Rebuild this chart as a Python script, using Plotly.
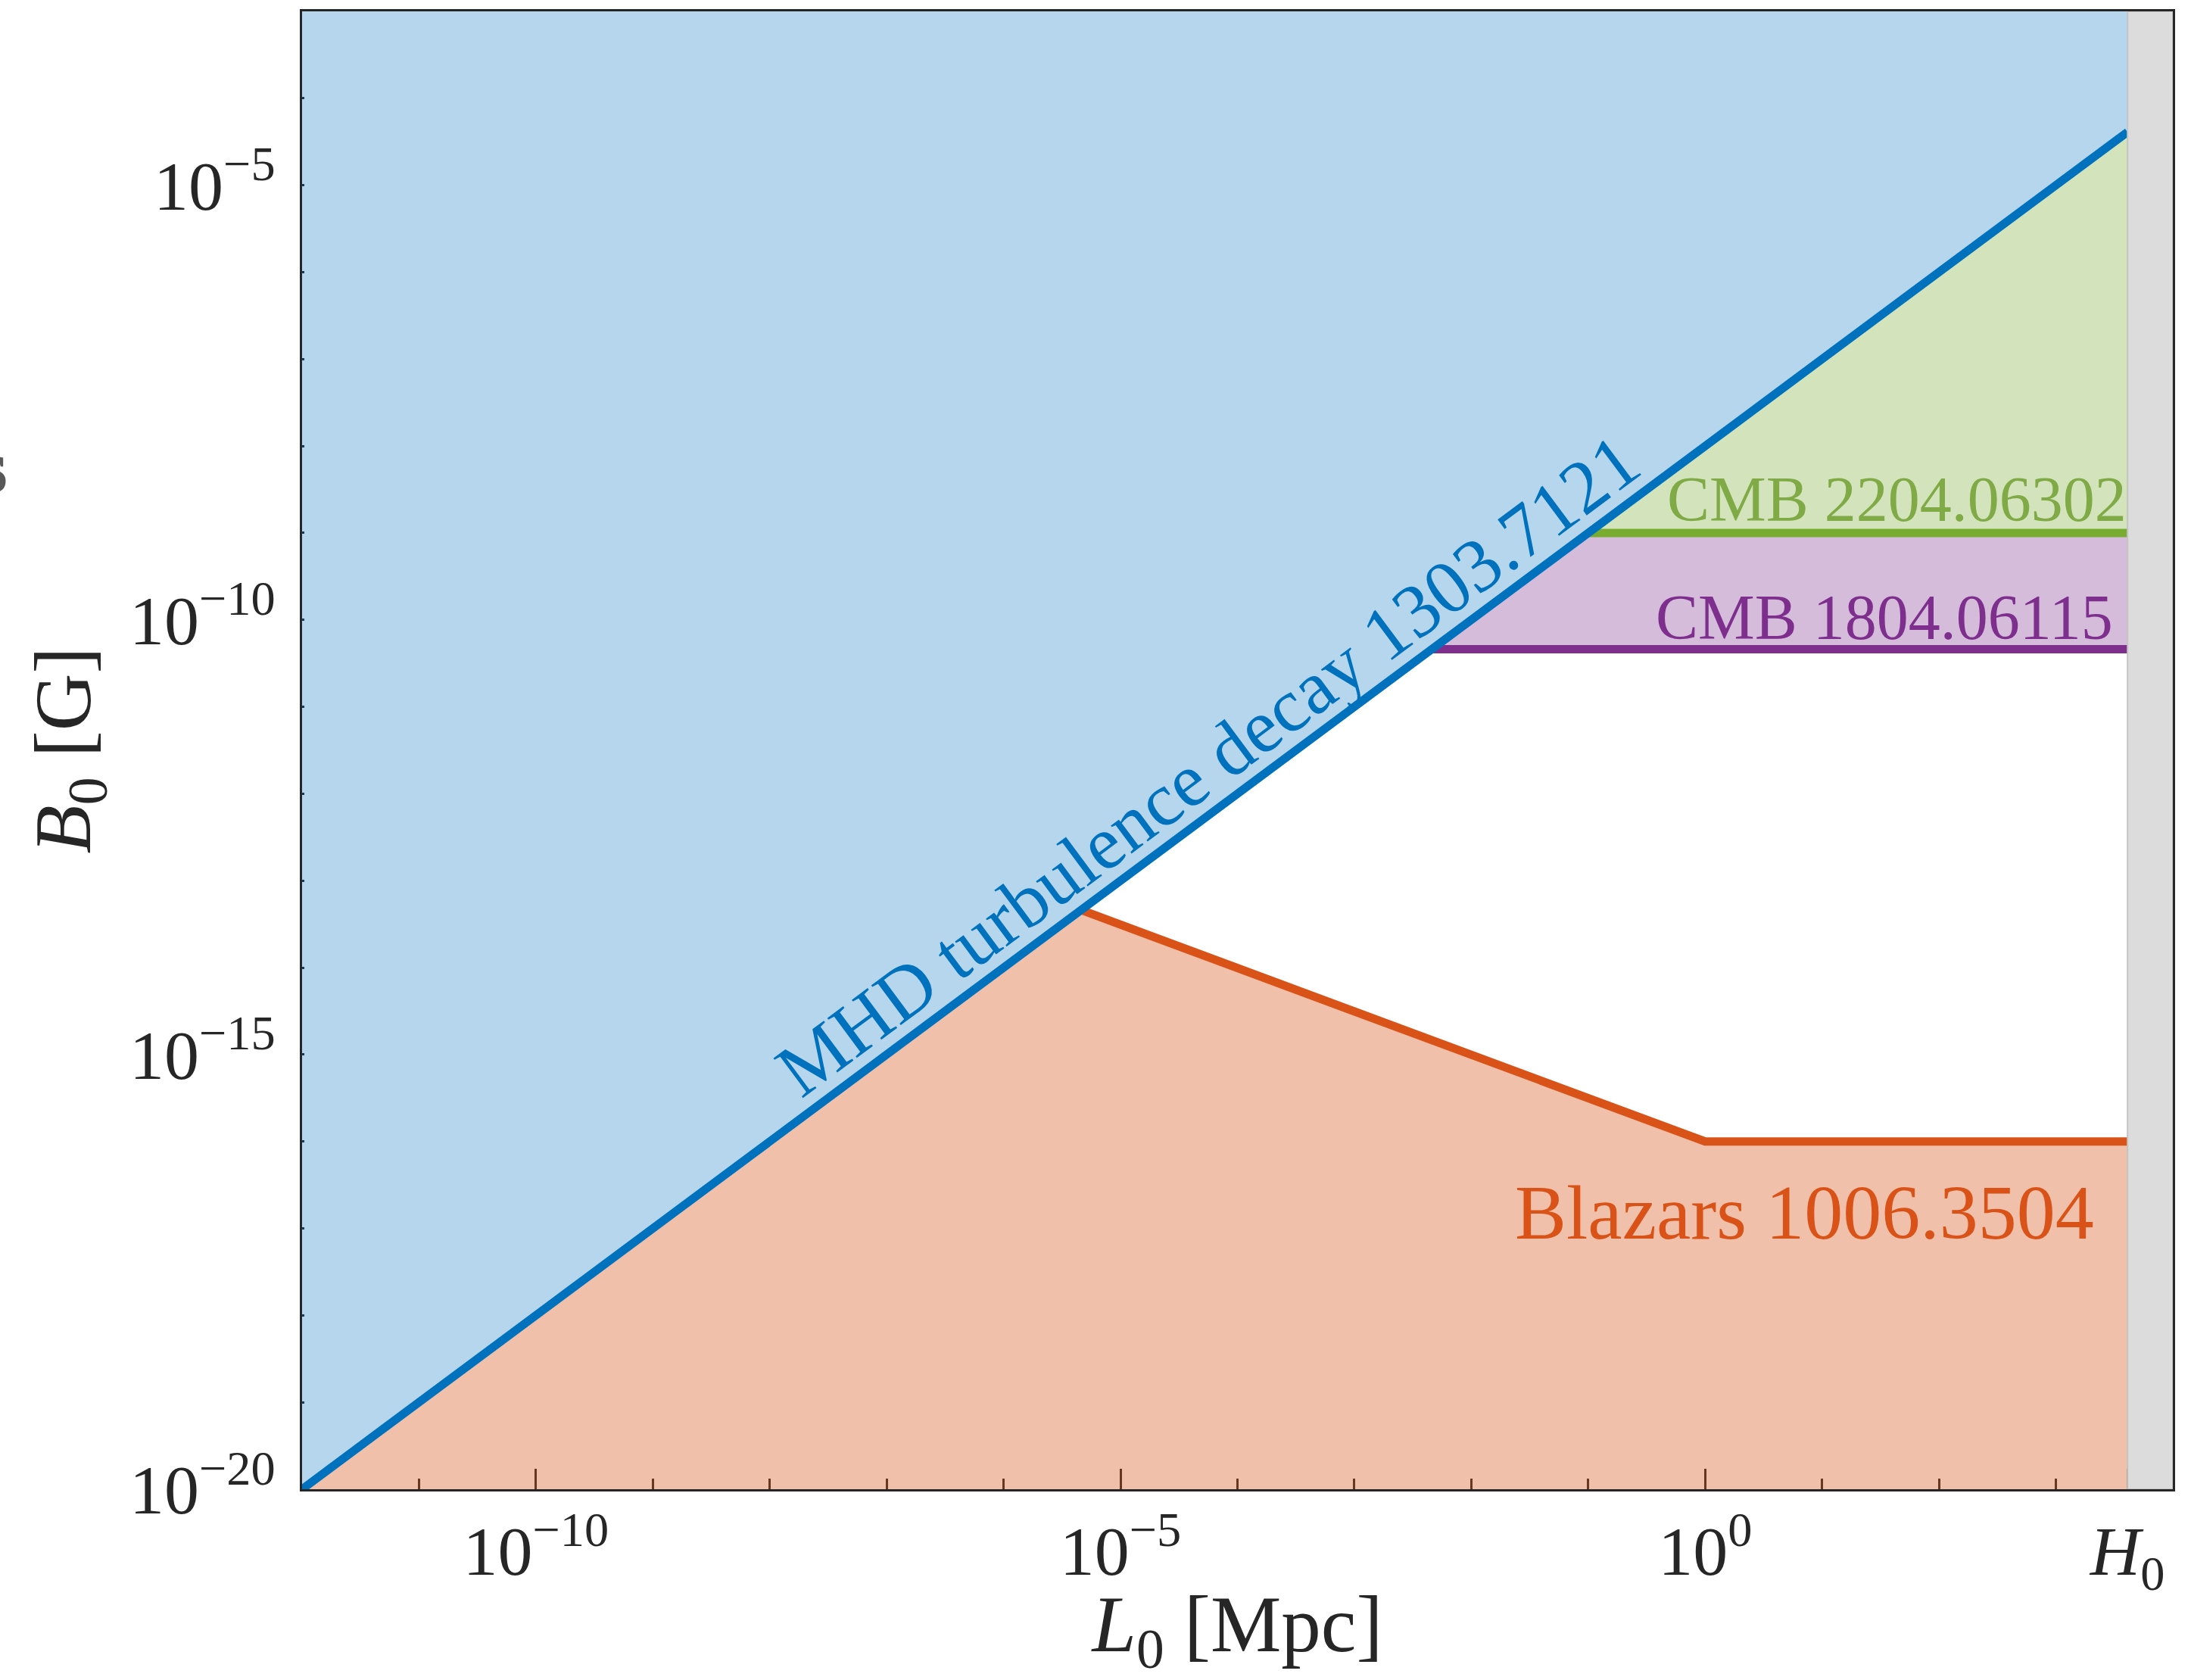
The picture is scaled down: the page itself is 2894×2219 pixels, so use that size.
import numpy as np
import plotly.graph_objects as go

# ---- axis extents (L0 in Mpc, B0 in Gauss) ----
L_axis = [1e-12, 1e4]
B_axis = [1e-20, 1e-3]

# Hubble length c/H0 in Mpc (edge of the shaded band)
L_hubble = 4.1e3

# MHD turbulence decay bound (1303.7121): B0 = 1e-8 G * (L0 / Mpc)
mhd_L = [1e-12, 4.1e3]
mhd_B = [1e-20, 4.1e-5]

# CMB upper limits
cmb22_L = [1e-1, 4.1e3]
cmb22_B = [1e-9, 1e-9]
cmb18_L = [4.6e-3, 4.1e3]
cmb18_B = [4.6e-11, 4.6e-11]

# Blazar lower limit (1006.3504)
blazar_L = [4.6e-6, 1.0, 4.1e3]
blazar_B = [4.6e-14, 1e-16, 1e-16]

# tick labels
x_major = [1e-10, 1e-5, 1e0, L_hubble]
x_major_text = ["10<sup>\u221210</sup>", "10<sup>\u22125</sup>", "10<sup>0</sup>", "<i>H</i><sub>0</sub>"]
y_major = [1e-20, 1e-15, 1e-10, 1e-5]
y_major_text = ["10<sup>\u221220</sup>", "10<sup>\u221215</sup>", "10<sup>\u221210</sup>", "10<sup>\u22125</sup>"]

BLUE, ORANGE, GREEN, PURPLE = "#0072BD", "#D95319", "#77AC30", "#7E2F8E"
FONT = "Liberation Serif"
INK = "#262626"

fig = go.Figure()


def region(xs, ys, color):
    fig.add_trace(go.Scatter(x=xs, y=ys, fill="toself", fillcolor=color, mode="lines",
                             line=dict(width=0), hoverinfo="skip", showlegend=False))


def bound(xs, ys, color):
    fig.add_trace(go.Scatter(x=xs, y=ys, mode="lines", line=dict(color=color, width=11),
                             hoverinfo="skip", showlegend=False))


# excluded regions
region([L_axis[0], mhd_L[-1], L_hubble, L_axis[0]],
       [B_axis[0], mhd_B[-1], B_axis[1], B_axis[1]], "rgba(0,114,189,0.29)")
region([cmb22_L[0], cmb22_L[-1], mhd_L[-1]],
       [cmb22_B[0], cmb22_B[-1], mhd_B[-1]], "rgba(119,172,48,0.32)")
region([cmb18_L[0], cmb18_L[-1], cmb22_L[-1], cmb22_L[0]],
       [cmb18_B[0], cmb18_B[-1], cmb22_B[-1], cmb22_B[0]], "rgba(126,47,142,0.32)")
region([L_axis[0]] + blazar_L + [blazar_L[-1]],
       [B_axis[0]] + blazar_B + [B_axis[0]], "rgba(217,83,25,0.37)")

# bounding curves
bound(cmb22_L, cmb22_B, GREEN)
bound(cmb18_L, cmb18_B, PURPLE)
bound(blazar_L, blazar_B, ORANGE)
bound(mhd_L, mhd_B, BLUE)

# beyond the Hubble scale
fig.add_trace(go.Scatter(x=[L_hubble, L_axis[1], L_axis[1], L_hubble, L_hubble],
                         y=[B_axis[0], B_axis[0], B_axis[1], B_axis[1], B_axis[0]],
                         fill="toself", fillcolor="#dcdcdc", mode="lines",
                         line=dict(color="#c4c4c4", width=2), hoverinfo="skip", showlegend=False))

# slope of the MHD line on screen, for the rotated label
plot_w, plot_h = 2471, 1952
dec_x = plot_w / (np.log10(L_axis[1]) - np.log10(L_axis[0]))
dec_y = plot_h / (np.log10(B_axis[1]) - np.log10(B_axis[0]))
mhd_angle = np.degrees(np.arctan(dec_y / dec_x))

annotations = [
    dict(x=-4.25, y=-11.67, text="MHD turbulence decay 1303.7121", textangle=-mhd_angle,
         font=dict(family=FONT, size=100, color=BLUE)),
    dict(x=3.62, y=-8.61, text="CMB 2204.06302", xanchor="right",
         font=dict(family=FONT, size=84, color="#7faa45")),
    dict(x=3.50, y=-9.97, text="CMB 1804.06115", xanchor="right",
         font=dict(family=FONT, size=84, color=PURPLE)),
    dict(x=3.34, y=-16.82, text="Blazars 1006.3504", xanchor="right",
         font=dict(family=FONT, size=102, color=ORANGE)),
]
for a in annotations:
    a.update(xref="x", yref="y", showarrow=False, yanchor="middle")
    a.setdefault("xanchor", "center")

annotations.append(dict(xref="paper", yref="paper", x=-0.1566, y=0.692, xanchor="right",
                        yanchor="middle", showarrow=False, text="<b>s</b>",
                        font=dict(family=FONT, size=100, color="#595959")))

x_minor = [10.0 ** k for k in range(-12, 5) if 10.0 ** k not in x_major]
y_minor = [10.0 ** k for k in range(-20, -2) if 10.0 ** k not in y_major]

axis_common = dict(type="log", showgrid=False, zeroline=False, showline=True,
                   linecolor=INK, linewidth=3, mirror=True, ticks="inside",
                   tickwidth=3, tickcolor=INK, layer="below traces", automargin=False,
                   tickfont=dict(family=FONT, size=92, color=INK), tickmode="array")

fig.update_layout(
    width=2894, height=2219,
    margin=dict(l=399, r=24, t=15, b=252, autoexpand=False),
    paper_bgcolor="white", plot_bgcolor="white",
    showlegend=False,
    annotations=annotations,
    xaxis=dict(axis_common,
               range=[np.log10(L_axis[0]), np.log10(L_axis[1])],
               tickvals=x_major, ticktext=x_major_text, ticklen=27, ticklabelstandoff=0,
               minor=dict(tickvals=x_minor, ticks="inside", ticklen=14, tickwidth=3, tickcolor=INK),
               title=dict(text="<i>L</i><sub>0</sub> [Mpc]", standoff=36,
                          font=dict(family=FONT, size=105, color=INK))),
    yaxis=dict(axis_common,
               range=[np.log10(B_axis[0]), np.log10(B_axis[1])],
               tickvals=y_major, ticktext=y_major_text, ticklen=3, ticklabelstandoff=14,
               minor=dict(tickvals=y_minor, ticks="inside", ticklen=3, tickwidth=3, tickcolor=INK),
               title=dict(text="<i>B</i><sub>0</sub> [G]", standoff=17,
                          font=dict(family=FONT, size=105, color=INK))),
)

fig.write_html("out.html")
